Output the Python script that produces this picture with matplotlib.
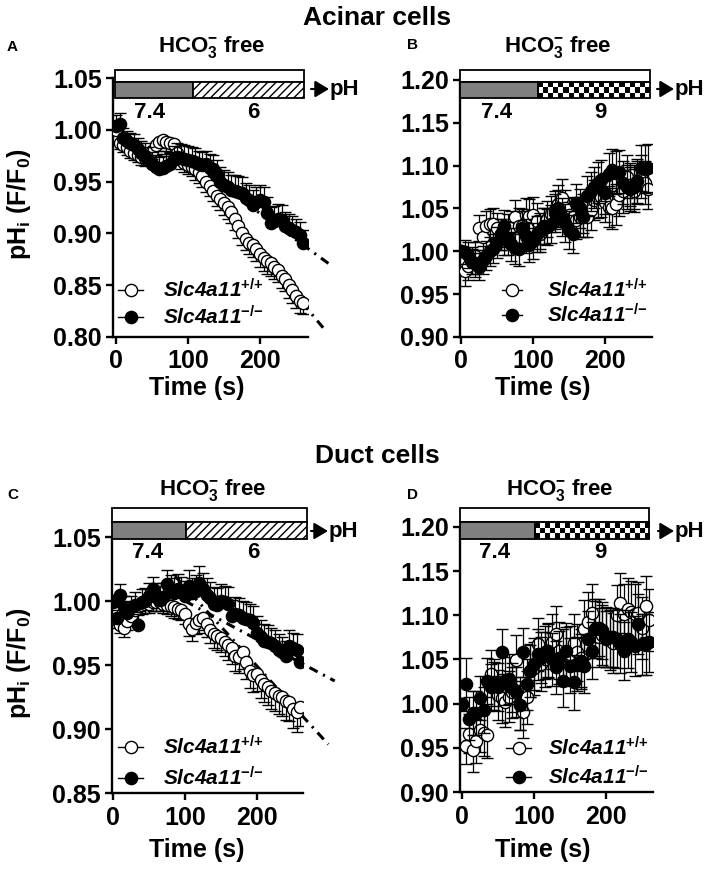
import numpy as np
import matplotlib
matplotlib.use('Agg')
import matplotlib.pyplot as plt
from matplotlib.lines import Line2D
from matplotlib.patches import Rectangle, FancyArrowPatch

plt.rcParams['font.family'] = ['Liberation Sans', 'DejaVu Sans']
plt.rcParams['font.weight'] = 'bold'
plt.rcParams['mathtext.fontset'] = 'custom'
plt.rcParams['mathtext.rm'] = 'Liberation Sans:bold'
plt.rcParams['mathtext.it'] = 'Liberation Sans:italic:bold'
plt.rcParams['mathtext.bf'] = 'Liberation Sans:bold'
plt.rcParams['hatch.linewidth'] = 1.0

# ---------------- data ----------------
TIME = [0, 5, 10, 15, 20, 25, 30, 35, 40, 45,
        50, 55, 60, 65, 70, 75, 80, 85, 90, 95,
        100, 105, 110, 115, 120, 125, 130, 135, 140, 145,
        150, 155, 160, 165, 170, 175, 180, 185, 190, 195,
        200, 205, 210, 215, 220, 225, 230, 235, 240, 245,
        250, 255, 260]

A_WT = [1.000, 0.987, 0.985, 0.983, 0.980, 0.978, 0.976, 0.974, 0.973, 0.976,
        0.980, 0.985, 0.988, 0.990, 0.988, 0.987, 0.986, 0.978, 0.971, 0.968,
        0.966, 0.964, 0.962, 0.959, 0.955, 0.950, 0.946, 0.941, 0.936, 0.933,
        0.929, 0.925, 0.921, 0.914, 0.907, 0.900, 0.895, 0.891, 0.889, 0.885,
        0.880, 0.876, 0.873, 0.871, 0.868, 0.865, 0.859, 0.856, 0.850, 0.845,
        0.840, 0.835, 0.833]
A_WT_ERR = [0.004, 0.006, 0.006, 0.007, 0.007, 0.007, 0.007, 0.008, 0.008, 0.008,
            0.008, 0.008, 0.008, 0.008, 0.008, 0.009, 0.009, 0.009, 0.009, 0.009,
            0.009, 0.009, 0.010, 0.010, 0.010, 0.010, 0.010, 0.010, 0.010, 0.010,
            0.011, 0.011, 0.011, 0.011, 0.011, 0.011, 0.011, 0.011, 0.012, 0.012,
            0.012, 0.012, 0.012, 0.012, 0.012, 0.012, 0.012, 0.012, 0.012, 0.012,
            0.012, 0.012, 0.011]
A_KO = [1.004, 1.006, 0.992, 0.989, 0.987, 0.985, 0.981, 0.978, 0.975, 0.971,
        0.967, 0.964, 0.962, 0.963, 0.965, 0.967, 0.972, 0.974, 0.973, 0.972,
        0.971, 0.970, 0.969, 0.967, 0.966, 0.967, 0.963, 0.962, 0.957, 0.950,
        0.947, 0.945, 0.942, 0.941, 0.940, 0.939, 0.934, 0.932, 0.927, 0.930,
        0.932, 0.930, 0.920, 0.910, 0.912, 0.914, 0.913, 0.907, 0.905, 0.903,
        0.901, 0.898, 0.891]
A_KO_ERR = [0.010, 0.010, 0.010, 0.010, 0.010, 0.011, 0.011, 0.011, 0.012, 0.012,
            0.012, 0.012, 0.012, 0.012, 0.012, 0.012, 0.012, 0.013, 0.013, 0.013,
            0.013, 0.013, 0.013, 0.013, 0.013, 0.013, 0.014, 0.014, 0.014, 0.014,
            0.014, 0.014, 0.014, 0.015, 0.015, 0.015, 0.015, 0.015, 0.015, 0.015,
            0.015, 0.015, 0.015, 0.015, 0.014, 0.014, 0.014, 0.014, 0.014, 0.014,
            0.013, 0.013, 0.012]

B_WT = [1.000, 0.977, 0.983, 0.989, 0.995, 1.027, 1.017, 1.030, 1.032, 1.032,
        1.027, 1.020, 1.015, 1.024, 1.028, 1.040, 1.030, 1.029, 1.042, 1.041,
        1.042, 1.035, 1.020, 1.030, 1.038, 1.044, 1.048, 1.055, 1.062, 1.050,
        1.042, 1.040, 1.036, 1.040, 1.044, 1.040, 1.048, 1.060, 1.062, 1.064,
        1.058, 1.052, 1.050, 1.055, 1.066, 1.070, 1.087, 1.078, 1.071, 1.080,
        1.087, 1.080, 1.073]
B_WT_ERR = [0.000, 0.018, 0.017, 0.016, 0.016, 0.015, 0.016, 0.017, 0.017, 0.018,
            0.018, 0.018, 0.019, 0.019, 0.019, 0.020, 0.020, 0.020, 0.020, 0.020,
            0.021, 0.021, 0.021, 0.021, 0.021, 0.021, 0.022, 0.022, 0.022, 0.022,
            0.022, 0.022, 0.022, 0.023, 0.023, 0.023, 0.023, 0.023, 0.023, 0.024,
            0.024, 0.024, 0.024, 0.024, 0.025, 0.025, 0.025, 0.025, 0.025, 0.025,
            0.025, 0.025, 0.024]
B_KO = [1.000, 0.999, 0.996, 0.988, 0.986, 0.982, 0.990, 0.995, 1.000, 1.003,
        1.010, 1.020, 1.030, 1.015, 1.008, 1.004, 1.003, 1.027, 1.018, 1.007,
        1.012, 1.020, 1.024, 1.030, 1.028, 1.032, 1.045, 1.050, 1.040, 1.033,
        1.025, 1.020, 1.056, 1.050, 1.040, 1.065, 1.070, 1.075, 1.080, 1.083,
        1.068, 1.090, 1.095, 1.092, 1.093, 1.080, 1.075, 1.073, 1.075, 1.082,
        1.097, 1.096, 1.097]
B_KO_ERR = [0.000, 0.014, 0.015, 0.015, 0.016, 0.016, 0.016, 0.017, 0.017, 0.017,
            0.018, 0.018, 0.018, 0.019, 0.019, 0.019, 0.020, 0.020, 0.020, 0.020,
            0.021, 0.021, 0.021, 0.021, 0.021, 0.022, 0.022, 0.022, 0.022, 0.022,
            0.022, 0.022, 0.023, 0.023, 0.023, 0.023, 0.023, 0.024, 0.024, 0.024,
            0.024, 0.025, 0.025, 0.025, 0.025, 0.025, 0.026, 0.026, 0.026, 0.026,
            0.027, 0.028, 0.028]

C_WT = [1.000, 0.985, 0.981, 0.979, 0.984, 0.988, 0.993, 0.996, 0.997, 0.998,
        0.998, 0.999, 0.999, 0.999, 0.998, 0.997, 0.996, 0.995, 0.994, 0.993,
        0.990, 0.982, 0.978, 0.983, 0.985, 0.987, 0.982, 0.977, 0.974, 0.973,
        0.971, 0.968, 0.966, 0.963, 0.957, 0.956, 0.960, 0.952, 0.945, 0.942,
        0.943, 0.938, 0.935, 0.933, 0.930, 0.928, 0.926, 0.925, 0.922, 0.921,
        0.916, 0.913, 0.917]
C_WT_ERR = [0.004, 0.006, 0.006, 0.007, 0.007, 0.007, 0.007, 0.007, 0.007, 0.007,
            0.007, 0.007, 0.007, 0.007, 0.007, 0.007, 0.008, 0.008, 0.008, 0.008,
            0.008, 0.009, 0.009, 0.009, 0.010, 0.010, 0.010, 0.010, 0.011, 0.011,
            0.011, 0.011, 0.012, 0.012, 0.012, 0.012, 0.013, 0.013, 0.013, 0.013,
            0.013, 0.014, 0.014, 0.014, 0.014, 0.014, 0.014, 0.015, 0.015, 0.015,
            0.015, 0.015, 0.015]
C_KO = [0.999, 0.987, 1.005, 0.995, 0.991, 0.995, 0.997, 0.981, 0.999, 1.000,
        1.004, 1.009, 1.003, 1.001, 1.003, 1.013, 1.008, 1.006, 1.009, 1.007,
        1.004, 1.012, 1.006, 1.008, 1.014, 1.009, 1.005, 1.002, 0.998, 0.997,
        1.000, 0.999, 0.998, 0.988, 0.990, 0.989, 0.987, 0.986, 0.985, 0.983,
        0.975, 0.972, 0.969, 0.968, 0.967, 0.965, 0.962, 0.960, 0.957, 0.965,
        0.963, 0.962, 0.952]
C_KO_ERR = [0.005, 0.006, 0.008, 0.009, 0.009, 0.009, 0.010, 0.009, 0.010, 0.010,
            0.010, 0.010, 0.011, 0.011, 0.011, 0.011, 0.012, 0.012, 0.012, 0.012,
            0.012, 0.012, 0.012, 0.012, 0.013, 0.013, 0.013, 0.013, 0.013, 0.013,
            0.013, 0.013, 0.013, 0.013, 0.013, 0.013, 0.013, 0.013, 0.013, 0.013,
            0.013, 0.013, 0.013, 0.013, 0.012, 0.012, 0.012, 0.012, 0.012, 0.012,
            0.012, 0.012, 0.011]

D_WT = [1.000, 0.952, 0.966, 0.947, 0.958, 0.970, 0.967, 0.965, 1.034, 1.020,
        1.010, 1.006, 1.002, 1.008, 1.013, 1.049, 1.000, 0.991, 1.007, 1.037,
        1.040, 1.067, 1.045, 1.050, 1.060, 1.070, 1.079, 1.060, 1.052, 1.055,
        1.056, 1.069, 1.058, 1.052, 1.084, 1.093, 1.103, 1.085, 1.075, 1.078,
        1.075, 1.072, 1.069, 1.100, 1.114, 1.101, 1.107, 1.104, 1.101, 1.103,
        1.086, 1.110, 1.095]
D_WT_ERR = [0.000, 0.020, 0.022, 0.024, 0.025, 0.025, 0.026, 0.027, 0.027, 0.027,
            0.028, 0.028, 0.028, 0.029, 0.029, 0.029, 0.030, 0.030, 0.030, 0.030,
            0.030, 0.030, 0.031, 0.031, 0.031, 0.031, 0.031, 0.032, 0.032, 0.032,
            0.032, 0.032, 0.032, 0.033, 0.033, 0.033, 0.033, 0.033, 0.033, 0.034,
            0.034, 0.034, 0.034, 0.034, 0.034, 0.035, 0.035, 0.035, 0.035, 0.035,
            0.035, 0.035, 0.035]
D_KO = [1.000, 1.022, 0.983, 0.989, 0.989, 1.006, 0.993, 1.026, 1.019, 1.024,
        1.019, 1.058, 1.026, 1.028, 1.018, 1.013, 0.998, 1.058, 1.022, 1.037,
        1.045, 1.056, 1.052, 1.058, 1.060, 1.050, 1.041, 1.052, 1.026, 1.060,
        1.043, 1.024, 1.045, 1.048, 1.043, 1.073, 1.060, 1.084, 1.086, 1.083,
        1.073, 1.075, 1.075, 1.073, 1.068, 1.060, 1.073, 1.070, 1.065, 1.090,
        1.067, 1.067, 1.070]
D_KO_ERR = [0.000, 0.030, 0.024, 0.025, 0.025, 0.025, 0.026, 0.026, 0.026, 0.027,
            0.027, 0.027, 0.027, 0.028, 0.028, 0.028, 0.028, 0.028, 0.029, 0.029,
            0.029, 0.029, 0.029, 0.030, 0.030, 0.030, 0.030, 0.030, 0.030, 0.031,
            0.031, 0.031, 0.031, 0.031, 0.031, 0.032, 0.032, 0.032, 0.032, 0.032,
            0.032, 0.033, 0.033, 0.033, 0.033, 0.033, 0.033, 0.034, 0.034, 0.034,
            0.034, 0.034, 0.034]

# linear fits (dash-dot) for acidic phase
FIT_A_WT_T, FIT_A_WT_Y = [70, 290], [0.990, 0.807]
FIT_A_KO_T, FIT_A_KO_Y = [100, 301], [0.970, 0.868]
FIT_C_WT_T, FIT_C_WT_Y = [86, 299], [1.0195, 0.888]
FIT_C_KO_T, FIT_C_KO_Y = [100, 308], [1.000, 0.9375]

# perfusion protocol: pH switch time and end of bar (s)
SWITCH_T = {'A': 107, 'B': 107, 'C': 101, 'D': 101}
BAR_END_T = {'A': 261, 'B': 262, 'C': 269, 'D': 260}
PH_LOW = {'A': '7.4', 'B': '7.4', 'C': '7.4', 'D': '7.4'}
PH_HIGH = {'A': '6', 'B': '9', 'C': '6', 'D': '9'}

LBL_WT = r'Slc4a11$^{{+}/{+}}$'
LBL_KO = r'Slc4a11$^{{-}/{-}}$'

# ---------------- layout ----------------
W, H = 709, 871
PX_PER_S = 0.72
fig = plt.figure(figsize=(W / 100, H / 100), dpi=100)


def fx(px):
    return px / W


def fy(py):
    return 1 - py / H


LAYOUT = {
    'A': dict(ax=(113, 78, 308, 337), zero=116, ylim=(0.80, 1.05), strip=(115, 304, 70, 82, 98),
              pat='hatch', lo=(150, 113), hi=(253, 113), arrow=(311, 329, 89),
              header=(212, 47), letter=(12, 47), ylabel=(19, 204), xlabel=(197, 388),
              leg=(118, 143, 163, 290, 317), err='one'),
    'B': dict(ax=(460, 80, 652, 337), zero=461, ylim=(0.90, 1.20), strip=(460, 650, 70, 82, 98),
              pat='checker', lo=(497, 112), hi=(600, 112), arrow=(657, 674, 89),
              header=(558, 47), letter=(413, 45), ylabel=None, xlabel=(543, 388),
              leg=(502, 522, 547, 290, 315), err='both'),
    'C': dict(ax=(112, 537, 303, 793), zero=113, ylim=(0.85, 1.05), strip=(112, 307, 508, 522, 539),
              pat='hatch', lo=(148, 552), hi=(253, 552), arrow=(311, 328, 531),
              header=(213, 490), letter=(13, 495), ylabel=(19, 663), xlabel=(197, 850),
              leg=(118, 143, 163, 747, 778), err='one'),
    'D': dict(ax=(460, 527, 653, 792), zero=462, ylim=(0.90, 1.20), strip=(460, 649, 508, 522, 539),
              pat='checker', lo=(495, 552), hi=(600, 552), arrow=(658, 674, 531),
              header=(560, 490), letter=(412, 495), ylabel=None, xlabel=(543, 850),
              leg=(506, 531, 548, 748, 777), err='both'),
}

SERIES = {
    'A': (A_WT, A_WT_ERR, A_KO, A_KO_ERR),
    'B': (B_WT, B_WT_ERR, B_KO, B_KO_ERR),
    'C': (C_WT, C_WT_ERR, C_KO, C_KO_ERR),
    'D': (D_WT, D_WT_ERR, D_KO, D_KO_ERR),
}
FITS = {
    'A': [(FIT_A_WT_T, FIT_A_WT_Y), (FIT_A_KO_T, FIT_A_KO_Y)],
    'C': [(FIT_C_WT_T, FIT_C_WT_Y), (FIT_C_KO_T, FIT_C_KO_Y)],
}

TICK_FS = 18
LAB_FS = 18
MS = 8.8

for key, L in LAYOUT.items():
    l, t, r, b = L['ax']
    ax = fig.add_axes([fx(l), fy(b), (r - l) / W, (b - t) / H])
    xlim = ((l - L['zero']) / PX_PER_S, (r - L['zero']) / PX_PER_S)
    ax.set_xlim(*xlim)
    ax.set_ylim(*L['ylim'])
    y0, y1 = L['ylim']
    yt = np.round(np.arange(y0, y1 + 1e-6, 0.05), 2)
    ax.set_yticks(yt)
    ax.set_yticklabels(['%.2f' % v for v in yt])
    ax.set_xticks([0, 100, 200])
    for s in ['top', 'right']:
        ax.spines[s].set_visible(False)
    for s in ['left', 'bottom']:
        ax.spines[s].set_linewidth(1.7)
    ax.tick_params(direction='out', length=5, width=1.7, labelsize=TICK_FS, pad=3)
    ax.tick_params(axis='x', pad=4)
    for lab in ax.get_xticklabels() + ax.get_yticklabels():
        lab.set_fontweight('bold')

    wt, wt_err, ko, ko_err = SERIES[key]
    zeros = [0.0] * len(TIME)
    if L['err'] == 'one':
        wt_yerr = [wt_err, zeros]
        ko_yerr = [zeros, ko_err]
    else:
        wt_yerr = wt_err
        ko_yerr = ko_err

    for ft, fyv in FITS.get(key, []):
        ax.plot(ft, fyv, color='black', lw=2.2, dashes=(3, 2, 0.7, 2), zorder=1, clip_on=False)

    ax.errorbar(TIME, wt, yerr=wt_yerr, fmt='o', ms=MS, mfc='white', mec='black', mew=1.0,
                ecolor='black', elinewidth=0.9, capsize=4, capthick=0.9, zorder=3)
    ax.errorbar(TIME, ko, yerr=ko_yerr, fmt='o', ms=MS, mfc='black', mec='black', mew=1.0,
                ecolor='black', elinewidth=0.9, capsize=4, capthick=0.9, zorder=4)

    # protocol strip
    sl, sr, st, sm, sb = L['strip']
    sax = fig.add_axes([fx(l), fy(sb), (r - l) / W, (sb - st) / H], zorder=5)
    hpat = sb - sm
    htot = sb - st
    sax.axis('off')
    start = (sl - L['zero']) / PX_PER_S
    end = BAR_END_T[key]
    sw = SWITCH_T[key]
    sax.add_patch(Rectangle((start, hpat), end - start, htot - hpat, fc='white', ec='black',
                            lw=1.3, clip_on=False))
    sax.add_patch(Rectangle((start, 0), sw - start, hpat, fc='#7f7f7f', ec='black',
                            lw=1.3, clip_on=False))
    if L['pat'] == 'hatch':
        sax.add_patch(Rectangle((sw, 0), end - sw, hpat, fc='white', ec='black', hatch='////',
                                lw=1.3, clip_on=False))
    else:
        ncols = int(round((end - sw) * PX_PER_S / 5.0))
        board = np.indices((3, ncols)).sum(axis=0) % 2
        sax.imshow(board, cmap='gray', extent=(sw, end, 0, hpat), aspect='auto',
                   interpolation='nearest', vmin=0, vmax=1)
        sax.add_patch(Rectangle((sw, 0), end - sw, hpat, fill=False, ec='black',
                                lw=1.3, clip_on=False))
    sax.set_xlim(*xlim)
    sax.set_ylim(0, htot)

    # arrow + pH
    a0, a1, ay = L['arrow']
    fig.add_artist(FancyArrowPatch(
        (fx(a0), fy(ay)), (fx(a1), fy(ay)), transform=fig.transFigure,
        arrowstyle='-|>,head_length=0.6,head_width=0.36', mutation_scale=14,
        color='black', lw=1.5, shrinkA=0, shrinkB=0))
    fig.text(fx(a1 + 1), fy(ay), 'pH', ha='left', va='center', fontsize=16, fontweight='bold')

    fig.text(fx(L['lo'][0]), fy(L['lo'][1]), PH_LOW[key], ha='center', va='center',
             fontsize=16, fontweight='bold')
    fig.text(fx(L['hi'][0]), fy(L['hi'][1]), PH_HIGH[key], ha='center', va='center',
             fontsize=16, fontweight='bold')
    fig.text(fx(L['header'][0]), fy(L['header'][1]), r'HCO$_{3}^{-}$ free', ha='center',
             va='center', fontsize=16, fontweight='bold')
    fig.text(fx(L['letter'][0]), fy(L['letter'][1]), key, ha='center', va='center',
             fontsize=11, fontweight='bold')
    if L['ylabel']:
        fig.text(fx(L['ylabel'][0]), fy(L['ylabel'][1]), r'pH$_{\mathrm{i}}$ (F/F$_{\mathrm{0}}$)',
                 rotation=90, ha='center', va='center', fontsize=LAB_FS, fontweight='bold')
    fig.text(fx(L['xlabel'][0]), fy(L['xlabel'][1]), 'Time (s)', ha='center', va='center',
             fontsize=LAB_FS, fontweight='bold')

    # legend
    h0, h1, tx, r1, r2 = L['leg']
    for row, fc, lbl in [(r1, 'white', LBL_WT), (r2, 'black', LBL_KO)]:
        fig.add_artist(Line2D([fx(h0), fx(h1)], [fy(row), fy(row)], color='black', lw=1.0,
                              transform=fig.transFigure))
        fig.add_artist(Line2D([fx((h0 + h1) / 2)], [fy(row)], marker='o', ms=MS, mfc=fc,
                              mec='black', mew=1.0, transform=fig.transFigure))
        fig.text(fx(tx), fy(row), lbl, ha='left', va='center', fontsize=15,
                 fontstyle='italic', fontweight='bold')

fig.text(fx(377), fy(18), 'Acinar cells', ha='center', va='center', fontsize=19, fontweight='bold')
fig.text(fx(377), fy(456), 'Duct cells', ha='center', va='center', fontsize=19, fontweight='bold')

fig.savefig('out.png', dpi=100)
